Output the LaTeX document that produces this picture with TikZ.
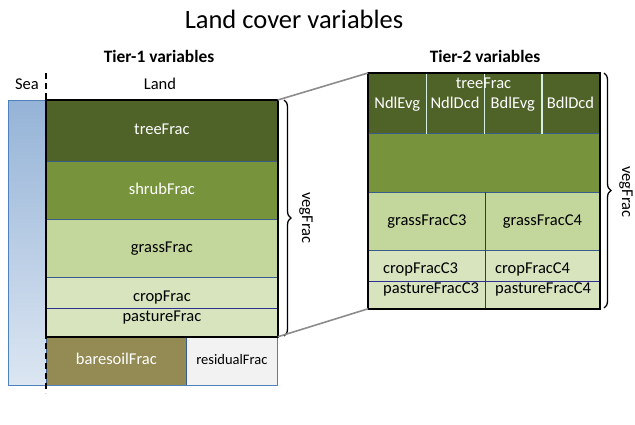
\documentclass[tikz,border=0pt]{standalone}
\usepackage{fontspec}
\setmainfont{Carlito}
\usetikzlibrary{decorations.pathreplacing}

\definecolor{treeGreen}{HTML}{4F6228}
\definecolor{shrubGreen}{HTML}{77933C}
\definecolor{grassGreen}{HTML}{C3D69B}
\definecolor{cropGreen}{HTML}{D7E4BD}
\definecolor{bareBrown}{HTML}{948A54}
\definecolor{residGray}{HTML}{F2F2F2}
\definecolor{seaTop}{HTML}{95B3D7}
\definecolor{seaBottom}{HTML}{DCE6F2}
\definecolor{seaLine}{HTML}{4F81BD}
\definecolor{bandLine}{HTML}{385D8A}
\definecolor{gridLine}{HTML}{2E3192}
\definecolor{colLine}{HTML}{D6F0E4}
\definecolor{zoomGray}{HTML}{8C8C8C}

\tikzset{
  band/.style={draw=bandLine, line width=0.8pt, inner sep=0pt, anchor=north west,
    text height=11.5pt, text depth=3.5pt, font=\fontsize{16.5}{19}\selectfont},
  lbl/.style={inner sep=0pt, text height=11.5pt, text depth=3.5pt,
    font=\fontsize{16.5}{19}\selectfont},
  tier/.style={inner sep=0pt, font=\fontsize{17.4}{20}\selectfont\bfseries},
  outline/.style={line width=2pt},
  grid/.style={draw=gridLine, line width=1.1pt},
  brace/.style={decorate, decoration={brace, amplitude=7pt}, line width=1.3pt},
  zoomline/.style={draw=zoomGray, line width=1.6pt}
}

\begin{document}
\begin{tikzpicture}[x=1pt, y=-1pt]
  \useasboundingbox (0,0) rectangle (635,424);

  \node[inner sep=0pt, font=\fontsize{26.5}{30}\selectfont] (title) at (294,19) {Land cover variables};
  \node[tier] (tier1) at (159,56) {Tier-1 variables};
  \node[tier] (tier2) at (485,56) {Tier-2 variables};
  \node[lbl] (sealbl) at (27,85) {Sea};
  \node[lbl] (landlbl) at (160,85) {Land};

  % tier 1
  \node[anchor=north west, inner sep=0pt, minimum width=38pt, minimum height=285pt,
    top color=seaTop, bottom color=seaBottom] (sea) at (8,100) {};
  \node[band, fill=treeGreen, text=white, minimum width=231pt, minimum height=61pt] (tree1) at (46,100) {treeFrac};
  \node[band, fill=shrubGreen, text=white, minimum width=231pt, minimum height=58pt] (shrub1) at (46,161) {shrubFrac};
  \node[band, fill=grassGreen, minimum width=231pt, minimum height=58pt] (grass1) at (46,219) {grassFrac};
  \node[band, fill=cropGreen, minimum width=231pt, minimum height=31pt] (crop1) at (46,277) {};
  \node[band, fill=cropGreen, minimum width=231pt, minimum height=28pt] (past1) at (46,308) {};
  \node[band, fill=bareBrown, text=white, minimum width=140pt, minimum height=49pt] (bare1) at (46,336) {baresoilFrac};
  \node[band, fill=residGray, minimum width=91pt, minimum height=49pt,
    font=\fontsize{14.5}{17}\selectfont] (resid1) at (186,336) {residualFrac};
  \draw[grid] (crop1.south west) -- (crop1.south east);
  \node[lbl] (croplbl1) at ([yshift=-5pt]crop1.center) {cropFrac};
  \node[lbl] (pastlbl1) at ([yshift=5pt]past1.center) {pastureFrac};
  \draw[draw=seaLine, line width=1pt] (sea.north west) rectangle (resid1.south east);
  \draw[outline] (tree1.north west) rectangle (past1.south east);

  \coordinate (dashtop) at (46,73);
  \coordinate (dashbot) at (46,393);
  \draw[line width=1.2pt, dash pattern=on 6pt off 4pt] (dashtop) -- (dashbot);

  \coordinate (brace1a) at (284,100);
  \coordinate (brace1b) at (284,336);
  \draw[brace] (brace1a) -- (brace1b);
  \node[lbl, rotate=-90] (veg1) at (306,218) {vegFrac};

  % tier 2
  \node[band, fill=treeGreen, minimum width=231pt, minimum height=60pt] (tree2) at (368,73) {};
  \node[band, fill=shrubGreen, minimum width=231pt, minimum height=59pt] (shrub2) at (368,133) {};
  \node[band, fill=grassGreen, minimum width=117pt, minimum height=58pt] (grassC3) at (368,192) {grassFracC3};
  \node[band, fill=grassGreen, minimum width=114pt, minimum height=58pt] (grassC4) at (485,192) {grassFracC4};
  \node[band, fill=cropGreen, minimum width=117pt, minimum height=31pt] (cropC3) at (368,250) {};
  \node[band, fill=cropGreen, minimum width=114pt, minimum height=31pt] (cropC4) at (485,250) {};
  \node[band, fill=cropGreen, minimum width=117pt, minimum height=27pt] (pastC3) at (368,281) {};
  \node[band, fill=cropGreen, minimum width=114pt, minimum height=27pt] (pastC4) at (485,281) {};
  \draw[grid] (grassC3.north east) -- (pastC3.south east);
  \draw[grid] (cropC3.south west) -- (cropC4.south east);

  \node[band, draw=none, minimum width=57.75pt, minimum height=60pt] (ndlevg) at (368,73) {};
  \node[band, draw=none, minimum width=57.75pt, minimum height=60pt] (ndldcd) at (425.75,73) {};
  \node[band, draw=none, minimum width=57.75pt, minimum height=60pt] (bdlevg) at (483.5,73) {};
  \node[band, draw=none, minimum width=57.75pt, minimum height=60pt] (bdldcd) at (541.25,73) {};
  \begin{scope}[draw=colLine, line width=1.2pt]
    \draw (ndlevg.north east) -- (ndlevg.south east);
    \draw (ndldcd.north east) -- (ndldcd.south east);
    \draw (bdlevg.north east) -- (bdlevg.south east);
  \end{scope}
  \node[lbl, text=white] (ndlevglbl) at ([yshift=-1pt]ndlevg.center) {NdlEvg};
  \node[lbl, text=white] (ndldcdlbl) at ([yshift=-1pt]ndldcd.center) {NdlDcd};
  \node[lbl, text=white] (bdlevglbl) at ([yshift=-1pt]bdlevg.center) {BdlEvg};
  \node[lbl, text=white] (bdldcdlbl) at ([yshift=-1pt]bdldcd.center) {BdlDcd};
  \node[lbl, text=white] (tree2lbl) at (483.5,84) {treeFrac};

  \node[lbl, anchor=west] (croplblC3) at ([xshift=15pt, yshift=-4pt]cropC3.west) {cropFracC3};
  \node[lbl, anchor=west] (croplblC4) at ([xshift=10pt, yshift=-4pt]cropC4.west) {cropFracC4};
  \node[lbl, anchor=west] (pastlblC3) at ([xshift=15pt, yshift=5pt]pastC3.west) {pastureFracC3};
  \node[lbl, anchor=west] (pastlblC4) at ([xshift=10pt, yshift=5pt]pastC4.west) {pastureFracC4};
  \draw[outline] (tree2.north west) rectangle (pastC4.south east);

  \coordinate (brace2a) at (604,73);
  \coordinate (brace2b) at (604,308);
  \draw[brace] (brace2a) -- (brace2b);
  \node[lbl, rotate=-90] (veg2) at (626,192) {vegFrac};

  \begin{scope}[zoomline]
    \draw (tree1.north east) -- (tree2.north west);
    \draw (past1.south east) -- (pastC3.south west);
  \end{scope}
\end{tikzpicture}
\end{document}
